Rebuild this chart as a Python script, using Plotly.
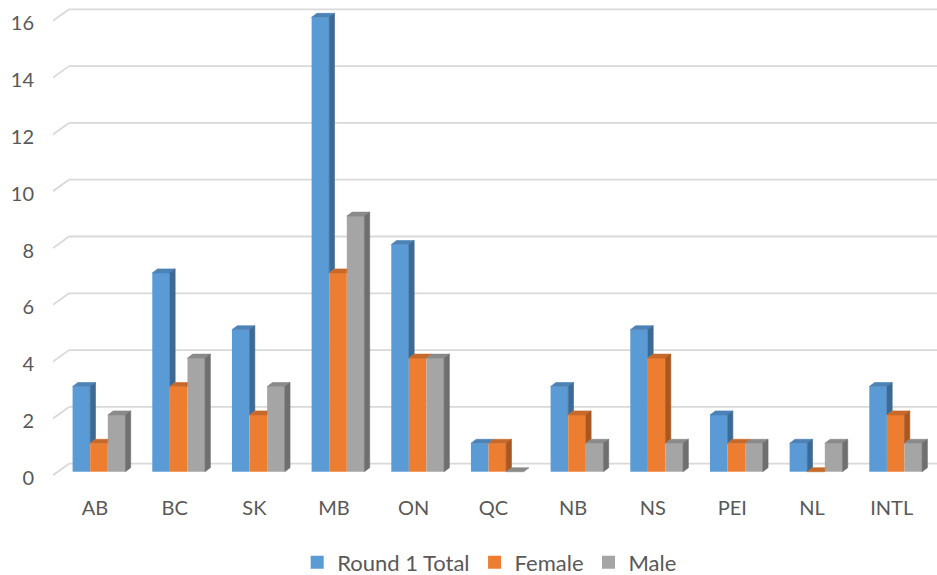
import plotly.graph_objects as go

# Applicants by province, round 1
categories = ["AB", "BC", "SK", "MB", "ON", "QC", "NB", "NS", "PEI", "NL", "INTL"]
round1_total = [3, 7, 5, 16, 8, 1, 3, 5, 2, 1, 3]
female = [1, 3, 2, 7, 4, 1, 2, 4, 1, 0, 2]
male = [2, 4, 3, 9, 4, 0, 1, 1, 1, 1, 1]
y_ticks = [0, 2, 4, 6, 8, 10, 12, 14, 16]

# colours: front face, top face, side face
series = [
    ("Round 1 Total", round1_total, "#5B9BD5", "#4C82B6", "#3D6A95"),
    ("Female", female, "#ED7D31", "#C7692A", "#A9561F"),
    ("Male", male, "#A5A5A5", "#8A8A8A", "#6F6F6F"),
]

# figure / plot-area geometry in pixels
W, H = 937, 575
ML, MR, MT, MB = 53, 0, 0, 95
PW, PH = W - ML - MR, H - MT - MB
PX_PER_CAT = 79.67
PX_PER_UNIT = 28.4

x_range = [-0.5774, -0.5774 + PW / PX_PER_CAT]
y_range = [-0.292, -0.292 + PH / PX_PER_UNIT]


def dxu(px):
    return px / PX_PER_CAT


def dyu(px):
    return px / PX_PER_UNIT


BAR_W = dxu(17.6)     # width of one bar
DEPTH_X = dxu(5.3)    # 3D depth offset of a bar
DEPTH_Y = dyu(4.0)
WALL_X = x_range[0] + dxu(16)   # back wall start
WALL_DY = dyu(8.0)              # back wall grid offset
FLOOR_DY = dyu(3.5)             # floor front edge offset

fig = go.Figure()
xs = list(range(len(categories)))

# front faces
for k, (name, vals, c_front, c_top, c_side) in enumerate(series):
    fig.add_trace(go.Bar(
        x=xs, y=vals, name=name, width=BAR_W, offset=(k - 1.5) * BAR_W,
        marker=dict(color=c_front, line=dict(width=0)),
        hoverinfo="skip", showlegend=False,
    ))

# top and side faces (only the parts not hidden by the next bar)
for k, (name, vals, c_front, c_top, c_side) in enumerate(series):
    nxt = series[k + 1][1] if k + 1 < len(series) else None
    top_x, top_y, side_x, side_y = [], [], [], []
    for i, v in enumerate(vals):
        x0 = i + (k - 1.5) * BAR_W
        x1 = x0 + BAR_W
        if nxt is not None and nxt[i] >= v + DEPTH_Y:
            px = [x0, x1, x1, x0 + DEPTH_X, x0]
            py = [v, v, v + DEPTH_Y, v + DEPTH_Y, v]
        else:
            px = [x0, x1, x1 + DEPTH_X, x0 + DEPTH_X, x0]
            py = [v, v, v + DEPTH_Y, v + DEPTH_Y, v]
        top_x += px + [None]
        top_y += py + [None]
        low = nxt[i] if nxt is not None else 0
        if v > low:
            side_x += [x1, x1, x1 + DEPTH_X, x1 + DEPTH_X, x1, None]
            side_y += [low, v, v + DEPTH_Y, low + DEPTH_Y, low, None]
    for fx, fy, col in ((top_x, top_y, c_top), (side_x, side_y, c_side)):
        if not fx:
            continue
        fig.add_trace(go.Scatter(
            x=fx, y=fy, mode="lines", fill="toself", fillcolor=col,
            line=dict(color=col, width=0.6), showlegend=False,
            hoverinfo="skip",
        ))

# legend keys
for name, vals, c_front, c_top, c_side in series:
    fig.add_trace(go.Scatter(
        x=[None], y=[None], mode="markers", name=name,
        marker=dict(symbol="square", size=13, color=c_front,
                    line=dict(width=0)),
    ))

# back wall gridlines and floor diagonals
shapes = []
for t in y_ticks:
    shapes.append(dict(type="line", xref="x", yref="y", layer="below",
                       x0=WALL_X, x1=x_range[1], y0=t + WALL_DY, y1=t + WALL_DY,
                       line=dict(color="#D9D9D9", width=1.8)))
    shapes.append(dict(type="line", xref="x", yref="y", layer="below",
                       x0=x_range[0], x1=WALL_X, y0=t - FLOOR_DY, y1=t + WALL_DY,
                       line=dict(color="#D9D9D9", width=1.8)))

fig.update_layout(
    width=W, height=H,
    margin=dict(l=ML, r=MR, t=MT, b=MB, autoexpand=False),
    plot_bgcolor="white", paper_bgcolor="white",
    font=dict(family="Lato", size=20, color="#595959"),
    barmode="overlay",
    shapes=shapes,
    showlegend=True,
    legend=dict(orientation="h", x=0.494, xanchor="center", y=-0.172,
                yanchor="middle", font=dict(size=22, color="#595959"),
                traceorder="normal", itemsizing="trace"),
    xaxis=dict(range=x_range, tickvals=xs, ticktext=categories,
               showgrid=False, zeroline=False, showline=False, ticks="",
               ticklabelstandoff=14, ticklabelshift=-4, fixedrange=True),
    yaxis=dict(range=y_range, tickvals=y_ticks, showgrid=False,
               zeroline=False, showline=False, ticks="",
               ticklabelshift=6, ticklabelstandoff=18,
               ticklabeloverflow="allow", fixedrange=True),
)

fig.write_html("out.html")
